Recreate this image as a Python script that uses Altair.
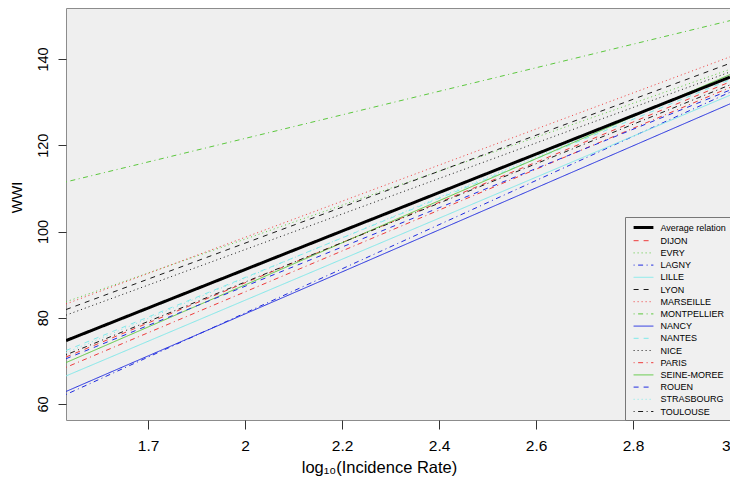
import altair as alt
import pandas as pd

# ---- data ----
names = ["Average relation", "DIJON", "EVRY", "LAGNY", "LILLE", "LYON", "MARSEILLE",
         "MONTPELLIER", "NANCY", "NANTES", "NICE", "PARIS", "SEINE-MOREE", "ROUEN",
         "STRASBOURG", "TOULOUSE"]
x_start = 1.6306
x_end = 3.0
y_start = [74.7, 70.9, 83.7, 62.2, 66.5, 81.9, 83.2, 111.5, 62.9, 72.4, 80.6, 68.5,
           69.6, 70.5, 71.9, 71.4]
y_end = [135.8, 134.7, 137.6, 132.3, 131.6, 139.0, 140.5, 148.9, 129.6, 135.2, 137.0,
         133.4, 136.4, 132.8, 136.0, 134.0]

x_ticks = [1.8, 2.0, 2.2, 2.4, 2.6, 2.8, 3.0]
x_tick_labels = ["1.7", "2", "2.2", "2.4", "2.6", "2.8", "3"]
y_ticks = [60, 80, 100, 120, 140]

# ---- styles ----
RED, GREEN, BLUE, CYAN, BLACK = "#EE3B3B", "#5CC83E", "#1F2BE0", "#7FE9EA", "#1a1a1a"
colors = ["#000000", RED, GREEN, BLUE, CYAN, BLACK, RED, GREEN, BLUE, CYAN, BLACK,
          RED, GREEN, BLUE, CYAN, BLACK]
DASHED, DOTTED, DOTDASH, SOLID = [5, 5], [1, 3], [1, 3.5, 5, 3.5], [1, 0]
dashes = [SOLID, DASHED, DOTTED, DOTDASH, SOLID, DASHED, DOTTED, DOTDASH, SOLID,
          DASHED, DOTTED, DOTDASH, SOLID, DASHED, DOTTED, DOTDASH]
widths = [3] + [1] * 15

rows = []
for n, a, b in zip(names, y_start, y_end):
    rows.append({"name": n, "x": x_start, "y": a})
    rows.append({"name": n, "x": x_end, "y": b})
df = pd.DataFrame(rows)

FONT = "Liberation Sans"

label_expr = ("[" + ",".join("'%s'" % s for s in x_tick_labels) + "][indexof(["
              + ",".join(str(int(round(v * 10))) for v in x_ticks)
              + "], round(datum.value*10))]")

legend = alt.Legend(
    title=None, orient="bottom-right", offset=0, padding=3.5,
    fillColor="#f0f0f0", strokeColor="#777777",
    symbolType="M-1.8,0L1.8,0", symbolSize=121, rowPadding=1.2,
    labelFont=FONT, labelFontSize=9, labelColor="#000000",
    labelOffset=10, symbolOffset=8,
)

xenc = alt.X("x:Q", scale=alt.Scale(domain=[x_start, x_end], nice=False, zero=False),
             axis=alt.Axis(values=x_ticks, labelExpr=label_expr, grid=False, domain=False,
                           tickSize=9, tickColor="#333333", labelPadding=21,
                           labelBaseline="alphabetic", labelFont=FONT, labelFontSize=15.5,
                           labelColor="#000000", title="log\u2081\u2080(Incidence Rate)",
                           titleFont=FONT, titleFontSize=16.5, titleFontWeight="normal",
                           titleColor="#000000", titleBaseline="alphabetic", titleY=52,
                           titleX=313, titleAlign="center"))
yenc = alt.Y("y:Q", scale=alt.Scale(domain=[56.29, 151.83], nice=False, zero=False),
             axis=alt.Axis(values=y_ticks, grid=False, domain=False, tickSize=8,
                           tickColor="#333333", labelPadding=11, labelAngle=270,
                           labelAlign="center", labelBaseline="alphabetic",
                           labelFont=FONT, labelFontSize=14.5, labelColor="#000000",
                           title="WWI", titleFont=FONT, titleFontSize=14.5,
                           titleFontWeight="normal", titleColor="#000000", titleAngle=270,
                           titleBaseline="alphabetic", titleAlign="center", titleX=-45,
                           titleY=189))

enc = dict(
    x=xenc, y=yenc,
    color=alt.Color("name:N", scale=alt.Scale(domain=names, range=colors), legend=legend),
    strokeDash=alt.StrokeDash("name:N", scale=alt.Scale(domain=names, range=dashes), legend=legend),
    strokeWidth=alt.StrokeWidth("name:N", scale=alt.Scale(type="ordinal", domain=names, range=widths),
                                legend=legend),
    detail="name:N",
)

cities = alt.Chart(df).transform_filter(alt.datum.name != names[0]).mark_line(
    clip=True, strokeCap="butt").encode(**enc)
average = alt.Chart(df).transform_filter(alt.datum.name == names[0]).mark_line(
    clip=True, strokeCap="butt").encode(**enc)

chart = alt.layer(cities, average).properties(
    width=664, height=412, autosize="none",
    padding={"left": 58, "top": 0, "right": 0, "bottom": 56},
    background="#ffffff",
).configure_view(fill="#efefef", stroke="#8c8c8c", strokeWidth=1)

chart.save("out.html", embed_options={"renderer": "svg", "actions": False})
